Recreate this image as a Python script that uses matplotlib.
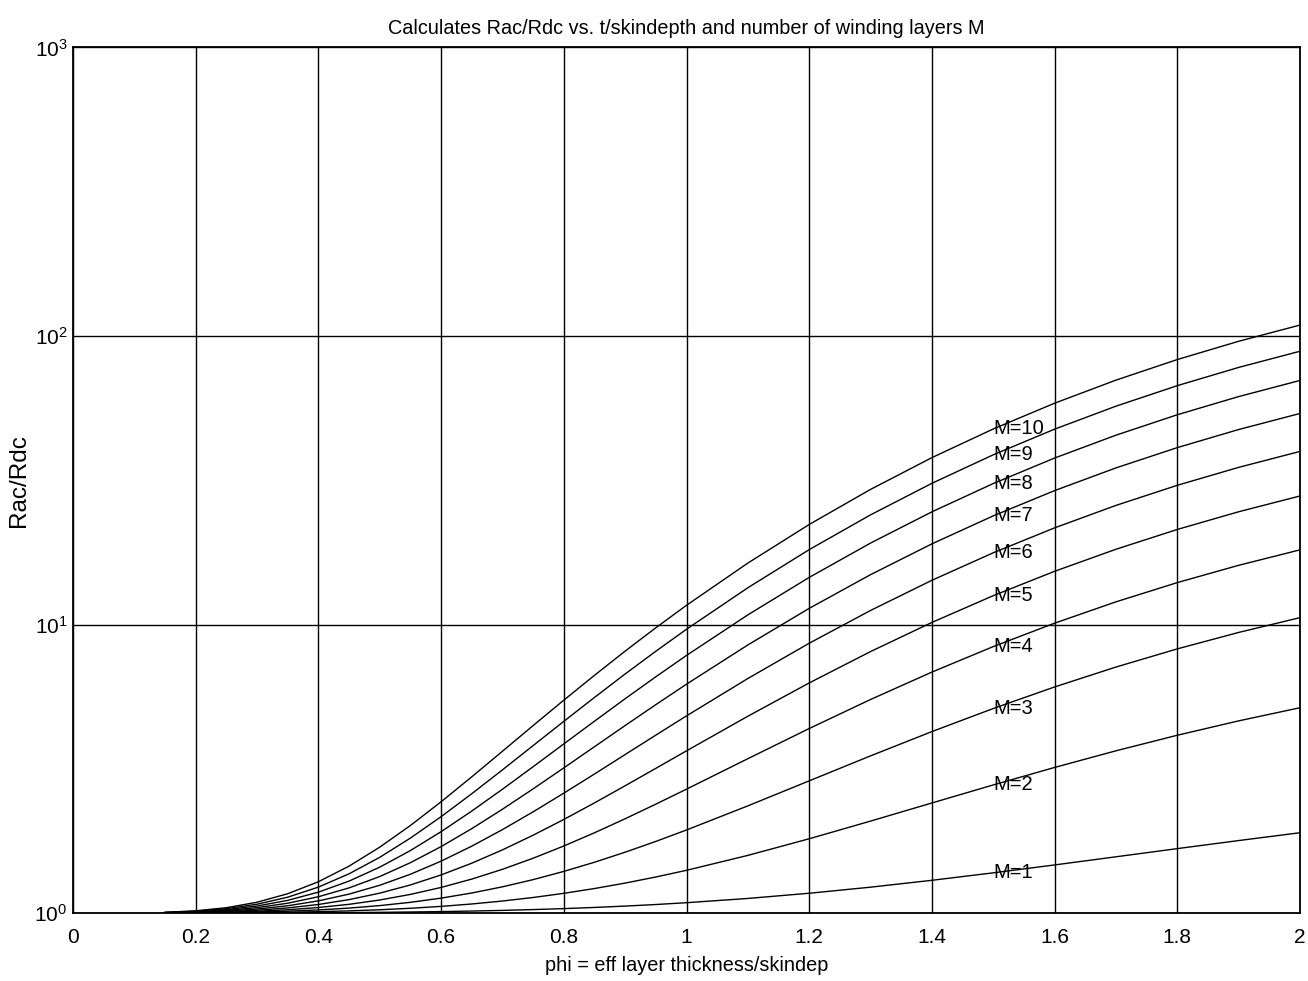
import matplotlib
matplotlib.use("Agg")
import matplotlib.pyplot as plt
from matplotlib.ticker import FixedLocator, NullLocator

plt.rcParams['font.family'] = ['Liberation Sans', 'DejaVu Sans']
plt.rcParams['mathtext.fontset'] = 'custom'
plt.rcParams['mathtext.rm'] = 'Liberation Sans'
plt.rcParams['mathtext.default'] = 'regular'

phi = [0.15, 0.2, 0.25, 0.3, 0.35, 0.4, 0.45, 0.5, 0.55, 0.6, 0.65, 0.7, 0.75,
       0.8, 0.85, 0.9, 0.95, 1.0, 1.1, 1.2, 1.3, 1.4, 1.5, 1.6, 1.7, 1.8, 1.9, 2.0]

M1 = [1.0000, 1.0001, 1.0003, 1.0007, 1.0013, 1.0023, 1.0036, 1.0055, 1.0081, 1.0115,
      1.0158, 1.0211, 1.0278, 1.0358, 1.0455, 1.0569, 1.0702, 1.0857, 1.1233, 1.1709,
      1.2291, 1.2983, 1.3781, 1.4678, 1.5663, 1.6719, 1.7830, 1.8978]
M2 = [1.0002, 1.0007, 1.0017, 1.0034, 1.0063, 1.0108, 1.0173, 1.0263, 1.0385, 1.0544,
      1.0748, 1.1004, 1.1319, 1.1701, 1.2158, 1.2699, 1.3330, 1.4060, 1.5840, 1.8086,
      2.0826, 2.4069, 2.7793, 3.1957, 3.6495, 4.1321, 4.6343, 5.1470]
M3 = [1.0005, 1.0016, 1.0038, 1.0079, 1.0147, 1.0250, 1.0400, 1.0610, 1.0891, 1.1261,
      1.1733, 1.2325, 1.3054, 1.3939, 1.4997, 1.6250, 1.7710, 1.9399, 2.3519, 2.8715,
      3.5052, 4.2545, 5.1147, 6.0756, 7.1214, 8.2324, 9.3864, 10.5622]
M4 = [1.0009, 1.0028, 1.0069, 1.0142, 1.0263, 1.0449, 1.0719, 1.1094, 1.1601, 1.2263,
      1.3111, 1.4174, 1.5484, 1.7072, 1.8971, 2.1221, 2.3842, 2.6874, 3.4270, 4.3596,
      5.4968, 6.8411, 8.3842, 10.1074, 11.9822, 13.9728, 16.0393, 18.1436]
M5 = [1.0014, 1.0044, 1.0108, 1.0223, 1.0414, 1.0705, 1.1128, 1.1718, 1.2512, 1.3552,
      1.4883, 1.6552, 1.8607, 2.1100, 2.4081, 2.7611, 3.1726, 3.6484, 4.8092, 6.2728,
      8.0573, 10.1668, 12.5878, 15.2911, 18.2317, 21.3533, 24.5931, 27.8910]
M6 = [1.0020, 1.0064, 1.0155, 1.0322, 1.0597, 1.1017, 1.1629, 1.2480, 1.3627, 1.5128,
      1.7049, 1.9458, 2.2425, 2.6023, 3.0326, 3.5423, 4.1362, 4.8230, 6.4986, 8.6112,
      11.1870, 14.2315, 17.7256, 21.6268, 25.8700, 30.3740, 35.0477, 39.8046]
M7 = [1.0027, 1.0087, 1.0212, 1.0439, 1.0814, 1.1387, 1.2220, 1.3380, 1.4943, 1.6990,
      1.9609, 2.2893, 2.6937, 3.1841, 3.7707, 4.4654, 5.2750, 6.2111, 8.4951, 11.3747,
      14.8856, 19.0353, 23.7975, 29.1144, 34.8970, 41.0348, 47.4032, 53.8842]
M8 = [1.0036, 1.0114, 1.0277, 1.0574, 1.1064, 1.1813, 1.2902, 1.4419, 1.6463, 1.9139,
      2.2563, 2.6855, 3.2143, 3.8555, 4.6223, 5.5305, 6.5890, 7.8128, 10.7988, 14.5634,
      19.1532, 24.5781, 30.8035, 37.7539, 45.3129, 53.3357, 61.6595, 70.1300]
M9 = [1.0045, 1.0144, 1.0351, 1.0727, 1.1347, 1.2296, 1.3675, 1.5597, 1.8185, 2.1574,
      2.5910, 3.1347, 3.8043, 4.6163, 5.5875, 6.7377, 8.0782, 9.6281, 13.4097, 18.1773,
      23.9899, 30.8599, 38.7437, 47.5454, 57.1175, 67.2767, 77.8166, 88.5418]
M10 = [1.0056, 1.0178, 1.0433, 1.0898, 1.1664, 1.2836, 1.4540, 1.6913, 2.0110, 2.4295,
       2.9652, 3.6366, 4.4637, 5.4667, 6.6662, 8.0869, 9.7426, 11.6569, 16.3277, 22.2163,
       29.3956, 37.8808, 47.6180, 58.4888, 70.3109, 82.8578, 95.8746, 109.1198]

series = [M1, M2, M3, M4, M5, M6, M7, M8, M9, M10]
labels = ["M=1", "M=2", "M=3", "M=4", "M=5", "M=6", "M=7", "M=8", "M=9", "M=10"]
label_x = 1.5

xticks = [0, 0.2, 0.4, 0.6, 0.8, 1, 1.2, 1.4, 1.6, 1.8, 2]
xticklabels = ["0", "0.2", "0.4", "0.6", "0.8", "1", "1.2", "1.4", "1.6", "1.8", "2"]
yticks = [1, 10, 100, 1000]
yticklabels = [r"$10^{0}$", r"$10^{1}$", r"$10^{2}$", r"$10^{3}$"]

fig = plt.figure(figsize=(13.08, 9.81), dpi=100)
ax = fig.add_axes([0.0558, 0.0693, 0.9381, 0.8823])

for s, lab in zip(series, labels):
    ax.plot(phi, s, color='black', lw=1.0)
    ax.text(label_x, s[phi.index(label_x)], lab, ha='left', va='center',
            fontsize=14.5)

ax.set_yscale('log')
ax.set_xlim(0, 2)
ax.set_ylim(1, 1000)
ax.xaxis.set_major_locator(FixedLocator(xticks))
ax.set_xticklabels(xticklabels)
ax.yaxis.set_major_locator(FixedLocator(yticks))
ax.set_yticklabels(yticklabels)
ax.yaxis.set_minor_locator(NullLocator())
ax.xaxis.set_minor_locator(NullLocator())
ax.grid(True, which='major', color='black', lw=1.0)
ax.tick_params(direction='in', length=0, labelsize=15)
ax.tick_params(axis='x', pad=11)
ax.tick_params(axis='y', pad=4)
for sp in ax.spines.values():
    sp.set_linewidth(1.3)
    sp.set_color('black')

ax.set_title("Calculates Rac/Rdc vs. t/skindepth and number of winding layers M",
             fontsize=14.3, pad=10)
ax.set_xlabel("phi = eff layer thickness/skindep", fontsize=14.3, labelpad=6)
ax.set_ylabel("Rac/Rdc", fontsize=17.5, labelpad=3)

fig.savefig("out.png", dpi=100)
